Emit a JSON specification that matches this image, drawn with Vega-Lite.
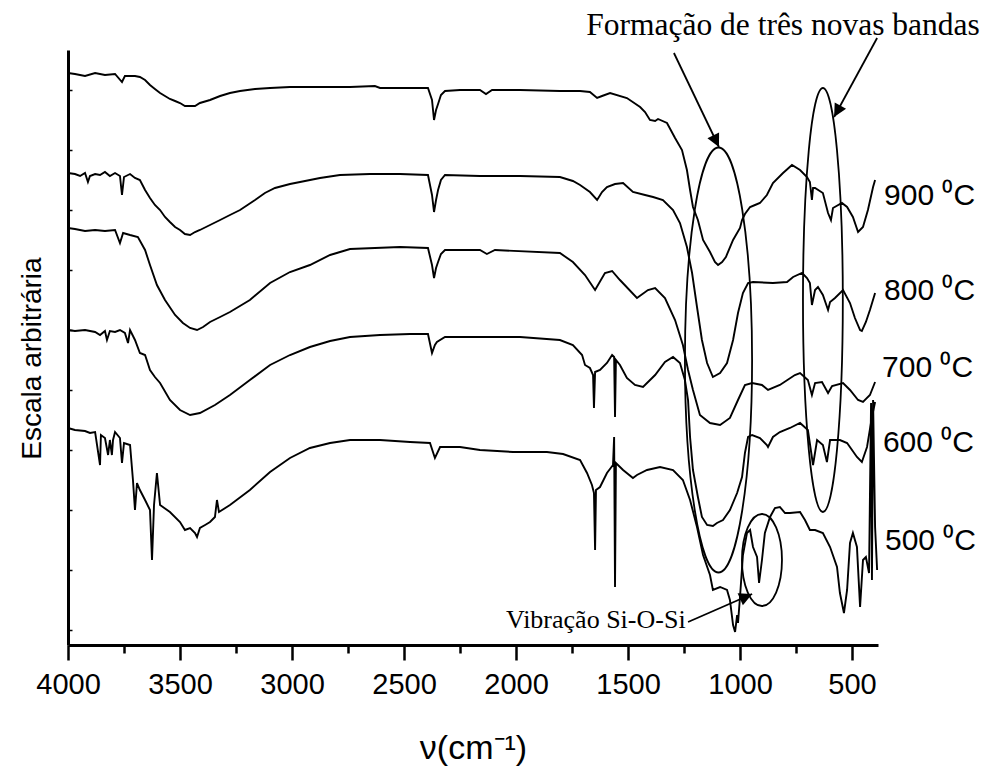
{
"$schema":"https://vega.github.io/schema/vega-lite/v6.json",
"width":810,"height":595,
"autosize":"none",
"padding":{"left":68,"top":50,"right":115,"bottom":124},
"background":"white",
"config":{"view":{"stroke":null}},
"layer":[
{
"data":{"values":[
{"s":"900","x":4000,"y":572},{"s":"900","x":3969,"y":571},{"s":"900","x":3924,"y":569},{"s":"900","x":3879,"y":572},{"s":"900","x":3835,"y":570},{"s":"900","x":3790,"y":571},{"s":"900","x":3759,"y":563},{"s":"900","x":3746,"y":569},{"s":"900","x":3701,"y":569},{"s":"900","x":3679,"y":568},{"s":"900","x":3656,"y":565},{"s":"900","x":3634,"y":560},{"s":"900","x":3612,"y":556},{"s":"900","x":3589,"y":552},{"s":"900","x":3567,"y":549},{"s":"900","x":3545,"y":546},{"s":"900","x":3522,"y":544},{"s":"900","x":3500,"y":542},{"s":"900","x":3478,"y":539},{"s":"900","x":3455,"y":539},{"s":"900","x":3433,"y":539},{"s":"900","x":3411,"y":542},{"s":"900","x":3366,"y":545},{"s":"900","x":3321,"y":549},{"s":"900","x":3277,"y":552},{"s":"900","x":3232,"y":554},{"s":"900","x":3165,"y":556},{"s":"900","x":3098,"y":557},{"s":"900","x":3009,"y":558},{"s":"900","x":2830,"y":558},{"s":"900","x":2741,"y":558},{"s":"900","x":2630,"y":559},{"s":"900","x":2607,"y":557},{"s":"900","x":2393,"y":557},{"s":"900","x":2375,"y":545},{"s":"900","x":2366,"y":525},{"s":"900","x":2357,"y":535},{"s":"900","x":2348,"y":541},{"s":"900","x":2335,"y":550},{"s":"900","x":2317,"y":554},{"s":"900","x":2250,"y":555},{"s":"900","x":2161,"y":555},{"s":"900","x":2134,"y":551},{"s":"900","x":2107,"y":555},{"s":"900","x":1982,"y":555},{"s":"900","x":1804,"y":554},{"s":"900","x":1714,"y":554},{"s":"900","x":1670,"y":553},{"s":"900","x":1638,"y":547},{"s":"900","x":1616,"y":549},{"s":"900","x":1580,"y":552},{"s":"900","x":1505,"y":547},{"s":"900","x":1446,"y":538},{"s":"900","x":1424,"y":533},{"s":"900","x":1402,"y":525},{"s":"900","x":1379,"y":524},{"s":"900","x":1366,"y":526},{"s":"900","x":1326,"y":522},{"s":"900","x":1290,"y":507},{"s":"900","x":1259,"y":495},{"s":"900","x":1237,"y":475},{"s":"900","x":1223,"y":455},{"s":"900","x":1210,"y":438},{"s":"900","x":1188,"y":425},{"s":"900","x":1165,"y":405},{"s":"900","x":1134,"y":393},{"s":"900","x":1112,"y":383},{"s":"900","x":1098,"y":380},{"s":"900","x":1080,"y":383},{"s":"900","x":1063,"y":388},{"s":"900","x":1031,"y":405},{"s":"900","x":1000,"y":417},{"s":"900","x":991,"y":425},{"s":"900","x":978,"y":431},{"s":"900","x":955,"y":438},{"s":"900","x":933,"y":440},{"s":"900","x":911,"y":442},{"s":"900","x":880,"y":450},{"s":"900","x":853,"y":462},{"s":"900","x":808,"y":472},{"s":"900","x":768,"y":480},{"s":"900","x":732,"y":475},{"s":"900","x":701,"y":468},{"s":"900","x":688,"y":463},{"s":"900","x":679,"y":445},{"s":"900","x":674,"y":457},{"s":"900","x":665,"y":457},{"s":"900","x":630,"y":452},{"s":"900","x":607,"y":432},{"s":"900","x":594,"y":425},{"s":"900","x":585,"y":437},{"s":"900","x":545,"y":442},{"s":"900","x":522,"y":438},{"s":"900","x":496,"y":428},{"s":"900","x":473,"y":413},{"s":"900","x":451,"y":418},{"s":"900","x":429,"y":435},{"s":"900","x":406,"y":458},{"s":"900","x":397,"y":465},
{"s":"800","x":4000,"y":472},{"s":"800","x":3969,"y":471},{"s":"800","x":3946,"y":469},{"s":"800","x":3924,"y":472},{"s":"800","x":3911,"y":463},{"s":"800","x":3902,"y":469},{"s":"800","x":3879,"y":471},{"s":"800","x":3857,"y":470},{"s":"800","x":3835,"y":473},{"s":"800","x":3813,"y":469},{"s":"800","x":3790,"y":472},{"s":"800","x":3768,"y":469},{"s":"800","x":3759,"y":450},{"s":"800","x":3750,"y":468},{"s":"800","x":3723,"y":471},{"s":"800","x":3701,"y":467},{"s":"800","x":3679,"y":465},{"s":"800","x":3656,"y":455},{"s":"800","x":3634,"y":447},{"s":"800","x":3612,"y":440},{"s":"800","x":3589,"y":435},{"s":"800","x":3567,"y":428},{"s":"800","x":3545,"y":423},{"s":"800","x":3522,"y":418},{"s":"800","x":3500,"y":415},{"s":"800","x":3478,"y":411},{"s":"800","x":3455,"y":410},{"s":"800","x":3433,"y":413},{"s":"800","x":3411,"y":415},{"s":"800","x":3366,"y":420},{"s":"800","x":3321,"y":425},{"s":"800","x":3277,"y":430},{"s":"800","x":3232,"y":435},{"s":"800","x":3165,"y":445},{"s":"800","x":3121,"y":452},{"s":"800","x":3076,"y":457},{"s":"800","x":3009,"y":461},{"s":"800","x":2964,"y":463},{"s":"800","x":2875,"y":467},{"s":"800","x":2786,"y":470},{"s":"800","x":2652,"y":471},{"s":"800","x":2518,"y":471},{"s":"800","x":2393,"y":470},{"s":"800","x":2375,"y":450},{"s":"800","x":2366,"y":433},{"s":"800","x":2357,"y":445},{"s":"800","x":2348,"y":455},{"s":"800","x":2335,"y":465},{"s":"800","x":2317,"y":470},{"s":"800","x":2161,"y":469},{"s":"800","x":1982,"y":469},{"s":"800","x":1804,"y":468},{"s":"800","x":1746,"y":464},{"s":"800","x":1714,"y":460},{"s":"800","x":1670,"y":453},{"s":"800","x":1638,"y":445},{"s":"800","x":1616,"y":453},{"s":"800","x":1594,"y":458},{"s":"800","x":1558,"y":461},{"s":"800","x":1522,"y":462},{"s":"800","x":1478,"y":453},{"s":"800","x":1424,"y":450},{"s":"800","x":1388,"y":448},{"s":"800","x":1344,"y":445},{"s":"800","x":1299,"y":435},{"s":"800","x":1268,"y":422},{"s":"800","x":1237,"y":398},{"s":"800","x":1214,"y":372},{"s":"800","x":1192,"y":338},{"s":"800","x":1170,"y":305},{"s":"800","x":1147,"y":282},{"s":"800","x":1121,"y":268},{"s":"800","x":1089,"y":272},{"s":"800","x":1058,"y":282},{"s":"800","x":1031,"y":305},{"s":"800","x":1009,"y":332},{"s":"800","x":987,"y":352},{"s":"800","x":964,"y":362},{"s":"800","x":942,"y":363},{"s":"800","x":853,"y":362},{"s":"800","x":790,"y":363},{"s":"800","x":763,"y":368},{"s":"800","x":723,"y":372},{"s":"800","x":701,"y":367},{"s":"800","x":688,"y":362},{"s":"800","x":679,"y":340},{"s":"800","x":665,"y":355},{"s":"800","x":652,"y":358},{"s":"800","x":630,"y":350},{"s":"800","x":607,"y":335},{"s":"800","x":598,"y":343},{"s":"800","x":576,"y":347},{"s":"800","x":540,"y":355},{"s":"800","x":509,"y":342},{"s":"800","x":487,"y":327},{"s":"800","x":464,"y":315},{"s":"800","x":456,"y":314},{"s":"800","x":438,"y":323},{"s":"800","x":420,"y":335},{"s":"800","x":397,"y":352},
{"s":"700","x":4000,"y":417},{"s":"700","x":3969,"y":416},{"s":"700","x":3924,"y":414},{"s":"700","x":3879,"y":415},{"s":"700","x":3835,"y":414},{"s":"700","x":3790,"y":415},{"s":"700","x":3768,"y":402},{"s":"700","x":3754,"y":412},{"s":"700","x":3723,"y":410},{"s":"700","x":3688,"y":408},{"s":"700","x":3656,"y":395},{"s":"700","x":3634,"y":380},{"s":"700","x":3603,"y":360},{"s":"700","x":3567,"y":345},{"s":"700","x":3522,"y":330},{"s":"700","x":3487,"y":322},{"s":"700","x":3455,"y":317},{"s":"700","x":3424,"y":315},{"s":"700","x":3397,"y":318},{"s":"700","x":3366,"y":323},{"s":"700","x":3321,"y":328},{"s":"700","x":3277,"y":333},{"s":"700","x":3188,"y":345},{"s":"700","x":3098,"y":362},{"s":"700","x":3009,"y":373},{"s":"700","x":2920,"y":380},{"s":"700","x":2830,"y":390},{"s":"700","x":2741,"y":396},{"s":"700","x":2518,"y":398},{"s":"700","x":2393,"y":397},{"s":"700","x":2375,"y":380},{"s":"700","x":2366,"y":367},{"s":"700","x":2357,"y":377},{"s":"700","x":2348,"y":383},{"s":"700","x":2335,"y":391},{"s":"700","x":2317,"y":395},{"s":"700","x":2161,"y":395},{"s":"700","x":2130,"y":391},{"s":"700","x":2094,"y":395},{"s":"700","x":1804,"y":392},{"s":"700","x":1746,"y":383},{"s":"700","x":1692,"y":370},{"s":"700","x":1647,"y":355},{"s":"700","x":1603,"y":372},{"s":"700","x":1571,"y":374},{"s":"700","x":1536,"y":365},{"s":"700","x":1460,"y":347},{"s":"700","x":1411,"y":355},{"s":"700","x":1379,"y":357},{"s":"700","x":1335,"y":347},{"s":"700","x":1290,"y":325},{"s":"700","x":1255,"y":300},{"s":"700","x":1232,"y":275},{"s":"700","x":1210,"y":255},{"s":"700","x":1179,"y":230},{"s":"700","x":1134,"y":222},{"s":"700","x":1089,"y":220},{"s":"700","x":1045,"y":227},{"s":"700","x":1009,"y":245},{"s":"700","x":978,"y":260},{"s":"700","x":946,"y":262},{"s":"700","x":902,"y":260},{"s":"700","x":875,"y":255},{"s":"700","x":822,"y":260},{"s":"700","x":755,"y":270},{"s":"700","x":732,"y":272},{"s":"700","x":697,"y":265},{"s":"700","x":679,"y":250},{"s":"700","x":665,"y":262},{"s":"700","x":634,"y":263},{"s":"700","x":607,"y":252},{"s":"700","x":589,"y":259},{"s":"700","x":540,"y":262},{"s":"700","x":509,"y":255},{"s":"700","x":473,"y":245},{"s":"700","x":451,"y":243},{"s":"700","x":420,"y":250},{"s":"700","x":397,"y":263},
{"s":"600","x":4000,"y":315},{"s":"600","x":3969,"y":314},{"s":"600","x":3924,"y":315},{"s":"600","x":3879,"y":313},{"s":"600","x":3857,"y":310},{"s":"600","x":3835,"y":314},{"s":"600","x":3826,"y":305},{"s":"600","x":3813,"y":314},{"s":"600","x":3790,"y":313},{"s":"600","x":3768,"y":315},{"s":"600","x":3746,"y":312},{"s":"600","x":3732,"y":302},{"s":"600","x":3723,"y":315},{"s":"600","x":3701,"y":305},{"s":"600","x":3679,"y":292},{"s":"600","x":3656,"y":290},{"s":"600","x":3634,"y":275},{"s":"600","x":3612,"y":268},{"s":"600","x":3589,"y":262},{"s":"600","x":3545,"y":245},{"s":"600","x":3500,"y":235},{"s":"600","x":3455,"y":230},{"s":"600","x":3411,"y":232},{"s":"600","x":3344,"y":240},{"s":"600","x":3277,"y":250},{"s":"600","x":3188,"y":265},{"s":"600","x":3098,"y":280},{"s":"600","x":3009,"y":290},{"s":"600","x":2920,"y":298},{"s":"600","x":2830,"y":304},{"s":"600","x":2741,"y":308},{"s":"600","x":2607,"y":310},{"s":"600","x":2473,"y":311},{"s":"600","x":2393,"y":311},{"s":"600","x":2375,"y":292},{"s":"600","x":2362,"y":300},{"s":"600","x":2353,"y":303},{"s":"600","x":2317,"y":308},{"s":"600","x":2161,"y":308},{"s":"600","x":1982,"y":308},{"s":"600","x":1804,"y":305},{"s":"600","x":1746,"y":300},{"s":"600","x":1705,"y":290},{"s":"600","x":1692,"y":280},{"s":"600","x":1670,"y":277},{"s":"600","x":1656,"y":270},{"s":"600","x":1652,"y":237},{"s":"600","x":1647,"y":273},{"s":"600","x":1625,"y":275},{"s":"600","x":1594,"y":282},{"s":"600","x":1571,"y":290},{"s":"600","x":1562,"y":288},{"s":"600","x":1558,"y":228},{"s":"600","x":1554,"y":285},{"s":"600","x":1536,"y":280},{"s":"600","x":1505,"y":267},{"s":"600","x":1469,"y":260},{"s":"600","x":1433,"y":258},{"s":"600","x":1379,"y":270},{"s":"600","x":1335,"y":283},{"s":"600","x":1299,"y":288},{"s":"600","x":1268,"y":282},{"s":"600","x":1246,"y":265},{"s":"600","x":1232,"y":245},{"s":"600","x":1223,"y":208},{"s":"600","x":1210,"y":175},{"s":"600","x":1188,"y":148},{"s":"600","x":1170,"y":128},{"s":"600","x":1147,"y":120},{"s":"600","x":1121,"y":119},{"s":"600","x":1103,"y":122},{"s":"600","x":1076,"y":125},{"s":"600","x":1045,"y":135},{"s":"600","x":1013,"y":152},{"s":"600","x":991,"y":168},{"s":"600","x":978,"y":192},{"s":"600","x":964,"y":208},{"s":"600","x":946,"y":210},{"s":"600","x":911,"y":207},{"s":"600","x":880,"y":200},{"s":"600","x":875,"y":198},{"s":"600","x":853,"y":208},{"s":"600","x":822,"y":213},{"s":"600","x":777,"y":217},{"s":"600","x":732,"y":222},{"s":"600","x":697,"y":215},{"s":"600","x":674,"y":180},{"s":"600","x":656,"y":205},{"s":"600","x":630,"y":200},{"s":"600","x":612,"y":183},{"s":"600","x":598,"y":205},{"s":"600","x":554,"y":205},{"s":"600","x":522,"y":202},{"s":"600","x":478,"y":188},{"s":"600","x":456,"y":183},{"s":"600","x":433,"y":198},{"s":"600","x":411,"y":228},{"s":"600","x":397,"y":243},
{"s":"500","x":4000,"y":217},{"s":"500","x":3969,"y":215},{"s":"500","x":3924,"y":214},{"s":"500","x":3902,"y":212},{"s":"500","x":3879,"y":213},{"s":"500","x":3857,"y":180},{"s":"500","x":3853,"y":210},{"s":"500","x":3835,"y":207},{"s":"500","x":3821,"y":190},{"s":"500","x":3813,"y":205},{"s":"500","x":3804,"y":190},{"s":"500","x":3799,"y":205},{"s":"500","x":3790,"y":213},{"s":"500","x":3768,"y":207},{"s":"500","x":3759,"y":182},{"s":"500","x":3750,"y":202},{"s":"500","x":3723,"y":200},{"s":"500","x":3710,"y":165},{"s":"500","x":3701,"y":135},{"s":"500","x":3692,"y":162},{"s":"500","x":3679,"y":155},{"s":"500","x":3656,"y":145},{"s":"500","x":3634,"y":135},{"s":"500","x":3625,"y":85},{"s":"500","x":3616,"y":140},{"s":"500","x":3603,"y":172},{"s":"500","x":3589,"y":140},{"s":"500","x":3545,"y":133},{"s":"500","x":3500,"y":123},{"s":"500","x":3478,"y":115},{"s":"500","x":3455,"y":117},{"s":"500","x":3433,"y":112},{"s":"500","x":3424,"y":108},{"s":"500","x":3411,"y":117},{"s":"500","x":3388,"y":120},{"s":"500","x":3366,"y":123},{"s":"500","x":3344,"y":128},{"s":"500","x":3335,"y":145},{"s":"500","x":3326,"y":133},{"s":"500","x":3277,"y":140},{"s":"500","x":3188,"y":155},{"s":"500","x":3098,"y":173},{"s":"500","x":3009,"y":187},{"s":"500","x":2920,"y":197},{"s":"500","x":2830,"y":202},{"s":"500","x":2741,"y":205},{"s":"500","x":2607,"y":205},{"s":"500","x":2473,"y":203},{"s":"500","x":2384,"y":202},{"s":"500","x":2362,"y":187},{"s":"500","x":2339,"y":198},{"s":"500","x":2250,"y":198},{"s":"500","x":2161,"y":195},{"s":"500","x":2013,"y":193},{"s":"500","x":1862,"y":193},{"s":"500","x":1790,"y":191},{"s":"500","x":1714,"y":185},{"s":"500","x":1683,"y":172},{"s":"500","x":1661,"y":160},{"s":"500","x":1652,"y":152},{"s":"500","x":1647,"y":95},{"s":"500","x":1643,"y":155},{"s":"500","x":1625,"y":158},{"s":"500","x":1594,"y":172},{"s":"500","x":1567,"y":180},{"s":"500","x":1562,"y":208},{"s":"500","x":1558,"y":58},{"s":"500","x":1554,"y":182},{"s":"500","x":1522,"y":175},{"s":"500","x":1478,"y":167},{"s":"500","x":1460,"y":170},{"s":"500","x":1415,"y":175},{"s":"500","x":1357,"y":178},{"s":"500","x":1299,"y":175},{"s":"500","x":1255,"y":165},{"s":"500","x":1223,"y":145},{"s":"500","x":1192,"y":118},{"s":"500","x":1165,"y":90},{"s":"500","x":1134,"y":70},{"s":"500","x":1121,"y":55},{"s":"500","x":1089,"y":58},{"s":"500","x":1058,"y":55},{"s":"500","x":1045,"y":45},{"s":"500","x":1031,"y":20},{"s":"500","x":1022,"y":13},{"s":"500","x":1013,"y":30},{"s":"500","x":1009,"y":22},{"s":"500","x":1000,"y":48},{"s":"500","x":987,"y":90},{"s":"500","x":969,"y":112},{"s":"500","x":955,"y":115},{"s":"500","x":942,"y":98},{"s":"500","x":924,"y":88},{"s":"500","x":915,"y":62},{"s":"500","x":902,"y":85},{"s":"500","x":889,"y":112},{"s":"500","x":866,"y":128},{"s":"500","x":844,"y":137},{"s":"500","x":822,"y":138},{"s":"500","x":799,"y":132},{"s":"500","x":777,"y":132},{"s":"500","x":732,"y":133},{"s":"500","x":710,"y":125},{"s":"500","x":688,"y":115},{"s":"500","x":665,"y":115},{"s":"500","x":630,"y":112},{"s":"500","x":598,"y":98},{"s":"500","x":567,"y":78},{"s":"500","x":554,"y":52},{"s":"500","x":536,"y":32},{"s":"500","x":522,"y":55},{"s":"500","x":509,"y":102},{"s":"500","x":496,"y":112},{"s":"500","x":478,"y":98},{"s":"500","x":464,"y":38},{"s":"500","x":451,"y":85},{"s":"500","x":438,"y":88},{"s":"500","x":424,"y":72},{"s":"500","x":415,"y":242},{"s":"500","x":411,"y":65},{"s":"500","x":406,"y":245},{"s":"500","x":397,"y":118},{"s":"500","x":388,"y":75}
]},
"mark":{"type":"line","color":"black","strokeWidth":1.9},
"encoding":{
"x":{"field":"x","type":"quantitative","scale":{"domain":[4000,384],"nice":false,"zero":false},
"axis":{"values":[4000,3750,3500,3250,3000,2750,2500,2250,2000,1750,1500,1250,1000,750,500],"format":"d","labelExpr":"datum.value % 500 === 0 ? datum.label : ''","labelFlush":false,"labelOverlap":false,"grid":false,
"tickSize":{"condition":{"test":"datum.value % 500 === 0","value":15},"value":8},"tickWidth":2.5,"tickColor":"black","domainWidth":3,"domainColor":"black",
"labelFont":"Liberation Sans","labelFontSize":29,"labelColor":"black","labelPadding":10,
"title":"ν(cm⁻¹)","titleFont":"Liberation Sans","titleFontSize":34,"titleFontWeight":"normal","titleColor":"black","titleY":113,"titleBaseline":"alphabetic"}},
"y":{"field":"y","type":"quantitative","scale":{"domain":[0,595],"nice":false,"zero":false},
"axis":{"values":[15,30,45,60,75,90,105,120,135,150,165,180,195,210,225,240,255,270,285,300,315,330,345,360,375,390,405,420,435,450,465,480,495,510,525,540,555,570,585],"labels":false,"grid":false,"tickSize":-4,"tickWidth":1.5,"tickColor":"black","domainWidth":3,"domainColor":"black",
"title":"Escala arbitrária","titleFont":"Liberation Sans","titleFontSize":28,"titleFontWeight":"normal","titleColor":"black","titleX":-28,"titleY":308,"titleBaseline":"alphabetic"}},
"detail":{"field":"s"}
}
},
{"data":{"values":[{"x":1096,"y":285}]},"mark":{"type":"point","shape":"M0,-1A0.158,1,0,1,1,0,1A0.158,1,0,1,1,0,-1Z","size":180625,"filled":false,"stroke":"black","strokeWidth":1.8,"opacity":1},"encoding":{"x":{"field":"x","type":"quantitative"},"y":{"field":"y","type":"quantitative"}}},
{"data":{"values":[{"x":630,"y":345}]},"mark":{"type":"point","shape":"M0,-1A0.094,1,0,1,1,0,1A0.094,1,0,1,1,0,-1Z","size":179776,"filled":false,"stroke":"black","strokeWidth":1.8,"opacity":1},"encoding":{"x":{"field":"x","type":"quantitative"},"y":{"field":"y","type":"quantitative"}}},
{"data":{"values":[{"x":902,"y":85}]},"mark":{"type":"point","shape":"M0,-1A0.435,1,0,1,1,0,1A0.435,1,0,1,1,0,-1Z","size":8464,"filled":false,"stroke":"black","strokeWidth":1.8,"opacity":1},"encoding":{"x":{"field":"x","type":"quantitative"},"y":{"field":"y","type":"quantitative"}}},
{"data":{"values":[{"x":1295,"y":592,"x2":1094,"y2":498},{"x":388,"y":607,"x2":580,"y2":528},{"x":1232,"y":23,"x2":946,"y2":51}]},"mark":{"type":"rule","color":"black","strokeWidth":1.8},"encoding":{"x":{"field":"x","type":"quantitative"},"y":{"field":"y","type":"quantitative"},"x2":{"field":"x2"},"y2":{"field":"y2"}}},
{"data":{"values":[{"x":1094,"y":498}]},"mark":{"type":"point","shape":"M0,0L-0.5,1L0.5,1Z","size":676,"angle":154,"filled":true,"color":"black","opacity":1},"encoding":{"x":{"field":"x","type":"quantitative"},"y":{"field":"y","type":"quantitative"}}},
{"data":{"values":[{"x":580,"y":528}]},"mark":{"type":"point","shape":"M0,0L-0.5,1L0.5,1Z","size":676,"angle":209,"filled":true,"color":"black","opacity":1},"encoding":{"x":{"field":"x","type":"quantitative"},"y":{"field":"y","type":"quantitative"}}},
{"data":{"values":[{"x":946,"y":51}]},"mark":{"type":"point","shape":"M0,0L-0.5,1L0.5,1Z","size":676,"angle":66,"filled":true,"color":"black","opacity":1},"encoding":{"x":{"field":"x","type":"quantitative"},"y":{"field":"y","type":"quantitative"}}},
{"data":{"values":[{"x":357,"y":440,"t":"900 ⁰C"},{"x":357,"y":345,"t":"800 ⁰C"},{"x":366,"y":268,"t":"700 ⁰C"},{"x":362,"y":193,"t":"600 ⁰C"},{"x":353,"y":95,"t":"500 ⁰C"}]},"mark":{"type":"text","align":"left","baseline":"alphabetic","font":"Liberation Sans","fontSize":30,"color":"black"},"encoding":{"x":{"field":"x","type":"quantitative"},"y":{"field":"y","type":"quantitative"},"text":{"field":"t"}}},
{"data":{"values":[{"x":808,"y":610,"t":"Formação de três novas bandas"}]},"mark":{"type":"text","align":"center","baseline":"alphabetic","font":"Liberation Serif","fontSize":31.5,"color":"black"},"encoding":{"x":{"field":"x","type":"quantitative"},"y":{"field":"y","type":"quantitative"},"text":{"field":"t"}}},
{"data":{"values":[{"x":2045,"y":17,"t":"Vibração Si-O-Si"}]},"mark":{"type":"text","align":"left","baseline":"alphabetic","font":"Liberation Serif","fontSize":26,"color":"black"},"encoding":{"x":{"field":"x","type":"quantitative"},"y":{"field":"y","type":"quantitative"},"text":{"field":"t"}}}
]
}
